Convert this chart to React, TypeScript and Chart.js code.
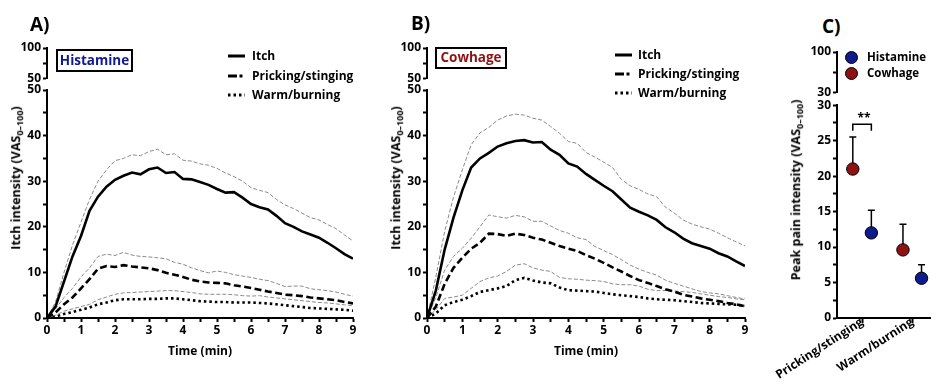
import React, { useEffect, useRef } from 'react';
import { Chart, registerables } from 'chart.js';

Chart.register(...registerables);

const FONT = "'Open Sans', 'DejaVu Sans', sans-serif";
Chart.defaults.font.family = FONT;
Chart.defaults.color = '#000';

// ---------- Data: time courses (minutes) ----------
const timeMin = [0, 0.25, 0.5, 0.75, 1, 1.25, 1.5, 1.75, 2, 2.25, 2.5, 2.75, 3, 3.25, 3.5, 3.75, 4, 4.25, 4.5, 4.75, 5, 5.25, 5.5, 5.75, 6, 6.25, 6.5, 6.75, 7, 7.25, 7.5, 7.75, 8, 8.25, 8.5, 8.75, 9];

// Panel A: Histamine
const histItch = [0, 2.5, 8, 13.5, 18, 23.5, 26.6, 28.8, 30.3, 31.2, 31.9, 31.5, 32.6, 33.0, 31.8, 32.0, 30.5, 30.4, 29.8, 29.2, 28.3, 27.5, 27.6, 26.4, 25.0, 24.3, 23.8, 22.4, 20.8, 20.0, 19.0, 18.3, 17.6, 16.5, 15.3, 14.0, 13.0];
const histItchSem = [0, 3.5, 10, 16, 21, 26, 30, 32.5, 34.5, 35, 35.8, 35.6, 36.5, 37.0, 35.8, 36, 34.6, 34.4, 33.8, 33.5, 32.8, 31.8, 31.0, 30.0, 28.6, 28.0, 27.5, 26.0, 24.8, 24.0, 23.0, 22.0, 21.5, 20.5, 19.6, 18.2, 16.9];
const histPrick = [0, 1.2, 3.0, 4.5, 6.5, 8.5, 10.8, 11.4, 11.2, 11.6, 11.3, 11.1, 10.9, 10.5, 9.9, 9.5, 9.0, 8.4, 8.0, 7.8, 7.7, 7.6, 7.2, 6.9, 6.6, 6.2, 5.8, 5.5, 5.1, 5.0, 4.8, 4.5, 4.3, 4.1, 3.9, 3.5, 3.2];
const histPrickSem = [0, 2.0, 4.5, 6.5, 9.0, 11.0, 13.5, 14.0, 13.7, 14.4, 13.8, 13.5, 13.4, 13.2, 13.0, 12.2, 11.8, 11.0, 10.4, 9.9, 10.3, 10.0, 9.5, 9.2, 8.9, 8.5, 8.2, 7.6, 6.9, 7.0, 7.0, 6.4, 6.2, 6.0, 5.7, 5.2, 4.8];
const histWarm = [0, 0.3, 0.9, 1.3, 1.8, 2.3, 3.0, 3.4, 3.9, 4.1, 4.1, 4.1, 4.2, 4.2, 4.3, 4.3, 4.1, 3.9, 3.7, 3.6, 3.5, 3.5, 3.4, 3.4, 3.4, 3.3, 3.2, 3.0, 2.8, 2.6, 2.4, 2.2, 2.1, 2.0, 1.9, 1.8, 1.6];
const histWarmSem = [0, 0.6, 1.5, 2.0, 2.5, 3.0, 4.0, 4.6, 5.2, 5.5, 5.6, 5.7, 5.8, 5.9, 6.0, 6.0, 5.8, 5.6, 5.3, 5.2, 5.2, 5.2, 5.1, 4.9, 4.8, 4.9, 4.6, 4.4, 4.2, 4.0, 3.8, 3.6, 3.4, 3.3, 3.1, 2.9, 2.7];

// Panel B: Cowhage
const cowItch = [0, 6, 15, 22, 28, 33, 35, 36.2, 37.6, 38.3, 38.8, 39.0, 38.5, 38.6, 36.9, 35.8, 33.9, 33.2, 31.6, 30.3, 29.0, 27.8, 26.0, 24.2, 23.3, 22.5, 21.5, 19.9, 18.8, 17.4, 16.4, 15.8, 15.2, 14.2, 13.5, 12.4, 11.4];
const cowItchSem = [0, 9, 19, 26.5, 32.5, 38, 40.6, 41.8, 43.4, 44.3, 44.7, 44.5, 43.8, 43.4, 42.0, 40.5, 38.7, 38.3, 36.3, 35.3, 34.2, 33.0, 30.4, 29.0, 28.2, 27.2, 26.6, 24.3, 23.0, 21.5, 20.6, 20.0, 19.5, 18.6, 17.6, 16.7, 15.8];
const cowPrick = [0, 2.5, 7.5, 11, 13.2, 15.2, 16.5, 18.5, 18.4, 18.0, 18.5, 18.2, 17.6, 17.2, 16.5, 15.8, 15.2, 14.7, 13.8, 13.0, 12.1, 11.1, 10.2, 9.2, 8.3, 7.7, 7.0, 6.3, 5.8, 5.1, 4.7, 4.3, 4.0, 3.7, 3.3, 3.0, 2.6];
const cowPrickSem = [0, 4.5, 10.5, 13.5, 15.3, 17.5, 20.0, 22.6, 22.2, 21.9, 22.5, 22.2, 21.2, 21.2, 20.2, 19.2, 18.6, 17.6, 17.2, 15.7, 14.8, 13.9, 12.8, 11.6, 10.7, 10.0, 9.4, 8.3, 7.6, 7.0, 6.4, 5.8, 5.5, 5.3, 4.9, 4.5, 4.2];
const cowWarm = [0, 1.0, 2.8, 3.5, 4.0, 4.8, 5.7, 6.1, 6.5, 7.0, 8.3, 8.8, 8.2, 7.8, 7.6, 6.7, 6.1, 6.0, 5.9, 5.8, 5.5, 5.2, 5.0, 4.8, 4.6, 4.3, 4.1, 4.0, 3.9, 3.7, 3.5, 3.3, 3.2, 3.1, 3.0, 2.9, 2.7];
const cowWarmSem = [0, 1.8, 4.3, 4.6, 5.0, 6.5, 8.0, 8.8, 9.2, 10.2, 11.6, 11.9, 11.0, 10.5, 10.2, 8.9, 8.6, 8.5, 8.3, 8.2, 8.0, 7.5, 7.3, 7.3, 7.0, 6.3, 6.0, 6.0, 5.9, 5.8, 5.6, 5.3, 5.0, 4.7, 4.5, 4.2, 4.0];

// Panel C: peak pain
const painCategories = ['Pricking/stinging', 'Warm/burning'];
const cowhagePeak = [21.0, 9.6];
const cowhageUpper = [25.5, 13.2];
const histaminePeak = [12.0, 5.6];
const histamineUpper = [15.2, 7.5];
const sigLow = 26.4;
const sigHigh = 27.3;

const legendLabels = ['Itch', 'Pricking/stinging', 'Warm/burning'];

// ---------- Styles ----------
const HIST_BLUE = '#0e1a8e';
const COW_RED = '#8e1212';
const SEM_GREY = '#8a8a8a';
const GROUP_SHIFT = 0.185;

const tickFont = { family: FONT, size: 12, weight: 'bold' as const };
const borderOpts = { display: true, color: '#000', width: 2 };
const gridOpts = (len: number) => ({
  display: true,
  drawOnChartArea: false,
  drawTicks: true,
  tickLength: len,
  tickWidth: 2,
  tickColor: '#000',
});

const STYLES = {
  itch: { color: '#000', width: 2.6, dash: [] as number[], order: 0 },
  prick: { color: '#000', width: 2.6, dash: [7, 3.5], order: 0 },
  warm: { color: '#000', width: 2.6, dash: [2.5, 3], order: 0 },
  sem: { color: SEM_GREY, width: 1, dash: [4, 2], order: 1 },
};

function lineDataset(label: string, values: number[], style: any) {
  return {
    label,
    data: values.map((v, i) => ({ x: timeMin[i], y: v })),
    borderColor: style.color,
    borderWidth: style.width,
    borderDash: style.dash,
    borderCapStyle: 'butt',
    pointRadius: 0,
    pointHoverRadius: 0,
    tension: 0,
    fill: false,
    order: style.order,
  };
}

function timeCourseConfig(series: number[][], padRight: number) {
  const [itch, itchSem, prick, prickSem, warm, warmSem] = series;
  return {
    type: 'line',
    data: {
      datasets: [
        lineDataset('Itch', itch, STYLES.itch),
        lineDataset('Pricking/stinging', prick, STYLES.prick),
        lineDataset('Warm/burning', warm, STYLES.warm),
        lineDataset('Itch SEM', itchSem, STYLES.sem),
        lineDataset('Pricking SEM', prickSem, STYLES.sem),
        lineDataset('Warm SEM', warmSem, STYLES.sem),
      ],
    },
    options: {
      animation: false,
      responsive: true,
      maintainAspectRatio: false,
      events: [],
      layout: { padding: { top: 10, right: padRight, bottom: 25, left: 0 } },
      plugins: { legend: { display: false }, tooltip: { enabled: false } },
      scales: {
        x: {
          type: 'linear',
          min: 0,
          max: 9,
          border: borderOpts,
          grid: gridOpts(4),
          ticks: {
            stepSize: 0.5,
            autoSkip: false,
            maxRotation: 0,
            padding: 1,
            font: tickFont,
            color: '#000',
            callback: (v: number) => (Number.isInteger(v) ? String(v) : ''),
          },
          title: {
            display: true,
            text: 'Time (min)',
            font: { family: FONT, size: 12, weight: 'bold' },
            color: '#000',
            padding: { top: 0, bottom: 4 },
          },
          afterFit: (s: any) => {
            s.height = 45;
          },
        },
        y: {
          type: 'linear',
          min: 0,
          max: 50,
          border: borderOpts,
          grid: gridOpts(4),
          ticks: {
            stepSize: 5,
            autoSkip: false,
            padding: 2,
            font: tickFont,
            color: '#000',
            callback: (v: number) => (v % 10 === 0 ? String(v) : ''),
          },
          afterFit: (s: any) => {
            s.width = 47;
          },
        },
      },
    },
  };
}

function stubConfig(min: number, max: number, tickValues: number[], labelled: number[], yWidth: number, padTop: number, padBottom: number) {
  return {
    type: 'line',
    data: { datasets: [] },
    options: {
      animation: false,
      responsive: true,
      maintainAspectRatio: false,
      events: [],
      layout: { padding: { top: padTop, bottom: padBottom, left: 0, right: 0 } },
      plugins: { legend: { display: false }, tooltip: { enabled: false } },
      scales: {
        x: { type: 'linear', display: false, min: 0, max: 1 },
        y: {
          type: 'linear',
          min,
          max,
          border: borderOpts,
          grid: gridOpts(4),
          ticks: {
            autoSkip: false,
            padding: 2,
            font: tickFont,
            color: '#000',
            callback: (v: number) => (labelled.includes(v) ? String(v) : ''),
          },
          afterBuildTicks: (s: any) => {
            s.ticks = tickValues.map((value) => ({ value }));
          },
          afterFit: (s: any) => {
            s.width = yWidth;
          },
        },
      },
    },
  };
}

function peakConfig() {
  const cowX = painCategories.map((_, i) => i + 1 - GROUP_SHIFT);
  const histX = painCategories.map((_, i) => i + 1 + GROUP_SHIFT);
  const errorSets: any[] = [];
  const addErr = (xs: number[], means: number[], uppers: number[]) => {
    means.forEach((m, i) => {
      errorSets.push({
        label: 'err',
        data: [
          { x: xs[i], y: m },
          { x: xs[i], y: uppers[i] },
        ],
        borderColor: '#000',
        borderWidth: 1.5,
        pointRadius: [0, 3.5],
        pointStyle: 'line',
        pointBorderColor: '#000',
        pointBorderWidth: 1.5,
        pointBackgroundColor: '#000',
        tension: 0,
        fill: false,
        order: 2,
      });
    });
  };
  addErr(cowX, cowhagePeak, cowhageUpper);
  addErr(histX, histaminePeak, histamineUpper);
  return {
    type: 'line',
    data: {
      datasets: [
        {
          label: 'Histamine',
          data: histaminePeak.map((v, i) => ({ x: histX[i], y: v })),
          showLine: false,
          pointRadius: 6.2,
          pointBackgroundColor: HIST_BLUE,
          pointBorderColor: '#000',
          pointBorderWidth: 1,
          order: 0,
        },
        {
          label: 'Cowhage',
          data: cowhagePeak.map((v, i) => ({ x: cowX[i], y: v })),
          showLine: false,
          pointRadius: 6.2,
          pointBackgroundColor: COW_RED,
          pointBorderColor: '#000',
          pointBorderWidth: 1,
          order: 0,
        },
        ...errorSets,
        {
          label: 'significance',
          data: [
            { x: cowX[0], y: sigLow },
            { x: cowX[0], y: sigHigh },
            { x: histX[0], y: sigHigh },
            { x: histX[0], y: sigLow },
          ],
          borderColor: '#000',
          borderWidth: 1.5,
          pointRadius: 0,
          tension: 0,
          fill: false,
          order: 2,
        },
      ],
    },
    options: {
      animation: false,
      responsive: true,
      maintainAspectRatio: false,
      events: [],
      layout: { padding: { top: 8, right: 0, bottom: 0, left: 0 } },
      plugins: { legend: { display: false }, tooltip: { enabled: false } },
      scales: {
        x: {
          type: 'linear',
          min: 0.5,
          max: 2.37,
          border: borderOpts,
          grid: gridOpts(5),
          ticks: {
            autoSkip: false,
            minRotation: 33,
            maxRotation: 33,
            padding: -8,
            font: tickFont,
            color: '#000',
            callback: (v: number) => painCategories[v - 1] ?? '',
          },
          afterBuildTicks: (s: any) => {
            s.ticks = painCategories.map((_, i) => ({ value: i + 1 }));
          },
          afterFit: (s: any) => {
            s.height = 70;
            s.paddingLeft = 0;
            s.paddingRight = 0;
          },
        },
        y: {
          type: 'linear',
          min: 0,
          max: 30,
          border: borderOpts,
          grid: gridOpts(4),
          ticks: {
            stepSize: 2.5,
            autoSkip: false,
            padding: 2,
            font: tickFont,
            color: '#000',
            callback: (v: number) => (v % 5 === 0 ? String(v) : ''),
          },
          afterFit: (s: any) => {
            s.width = 65;
          },
        },
      },
    },
  };
}

// ---------- Components ----------
function ChartBox({ left, top, width, height, config }: { left: number; top: number; width: number; height: number; config: () => any }) {
  const ref = useRef<HTMLCanvasElement>(null);
  useEffect(() => {
    const chart = new Chart(ref.current as HTMLCanvasElement, config());
    return () => chart.destroy();
  }, []);
  return (
    <div style={{ position: 'absolute', left, top, width, height }}>
      <canvas ref={ref} />
    </div>
  );
}

function Label({ x, y, size, children, color = '#000', center = false }: any) {
  return (
    <div
      style={{
        position: 'absolute',
        left: x,
        top: y - size * 0.53,
        fontSize: size,
        lineHeight: 1,
        fontWeight: 'bold',
        color,
        whiteSpace: 'nowrap',
        transform: center ? 'translateX(-50%)' : undefined,
      }}
    >
      {children}
    </div>
  );
}

function YTitle({ x, y, text }: { x: number; y: number; text: string }) {
  return (
    <div
      style={{
        position: 'absolute',
        left: x,
        top: y,
        transform: 'translate(-50%, -50%) rotate(-90deg)',
        whiteSpace: 'nowrap',
        fontWeight: 'bold',
        fontSize: 12.5,
        lineHeight: 1,
      }}
    >
      {text} (VAS<sub style={{ fontSize: '0.72em', verticalAlign: '-0.3em', lineHeight: 1 }}>0–100</sub>)
    </div>
  );
}

function Sample({ dash }: { dash?: string }) {
  return (
    <svg width={17} height={4} style={{ position: 'absolute', left: 0, top: -2 }}>
      <line x1={0} y1={2} x2={17} y2={2} stroke="#000" strokeWidth={3} strokeDasharray={dash} />
    </svg>
  );
}

function LineLegend({ x, textX, rows }: { x: number; textX: number; rows: number[] }) {
  const dashes = [undefined, '9 2.5 3 10', '2.5 3'];
  return (
    <>
      {legendLabels.map((lab, i) => (
        <React.Fragment key={lab}>
          <div style={{ position: 'absolute', left: x, top: rows[i] }}>
            <Sample dash={dashes[i]} />
          </div>
          <Label x={textX} y={rows[i]} size={12}>
            {lab}
          </Label>
        </React.Fragment>
      ))}
    </>
  );
}

function StimBox({ left, top, width, height, text, color }: any) {
  return (
    <div
      style={{
        position: 'absolute',
        left,
        top,
        width,
        height,
        boxSizing: 'border-box',
        border: '2px solid #000',
        display: 'flex',
        alignItems: 'center',
        justifyContent: 'center',
        color,
        fontWeight: 'bold',
        fontSize: 13.5,
        lineHeight: 1,
      }}
    >
      {text}
    </div>
  );
}

function Dot({ x, y, color }: any) {
  return (
    <div
      style={{
        position: 'absolute',
        left: x - 6.5,
        top: y - 6.5,
        width: 13,
        height: 13,
        boxSizing: 'border-box',
        borderRadius: '50%',
        border: '1px solid #000',
        background: color,
      }}
    />
  );
}

export default function App() {
  return (
    <div
      style={{
        position: 'fixed',
        left: 0,
        top: 0,
        width: 938,
        height: 388,
        overflow: 'hidden',
        background: '#fff',
        fontFamily: FONT,
        color: '#000',
      }}
    >
      {/* Panel A */}
      <ChartBox left={0} top={36} width={60} height={52} config={() => stubConfig(50, 100, [50, 75, 100], [50, 100], 47, 12, 9)} />
      <ChartBox
        left={0}
        top={80}
        width={380}
        height={308}
        config={() => timeCourseConfig([histItch, histItchSem, histPrick, histPrickSem, histWarm, histWarmSem], 27)}
      />
      <Label x={30} y={25} size={19}>A)</Label>
      <StimBox left={56} top={49} width={77} height={23} text="Histamine" color={HIST_BLUE} />
      <LineLegend x={228} textX={252} rows={[56, 76, 95]} />
      <YTitle x={17} y={178} text="Itch intensity" />

      {/* Panel B */}
      <ChartBox left={380} top={36} width={60} height={52} config={() => stubConfig(50, 100, [50, 75, 100], [50, 100], 47, 12, 9)} />
      <ChartBox
        left={380}
        top={80}
        width={380}
        height={308}
        config={() => timeCourseConfig([cowItch, cowItchSem, cowPrick, cowPrickSem, cowWarm, cowWarmSem], 15)}
      />
      <Label x={411} y={24} size={19}>B)</Label>
      <StimBox left={435} top={47} width={72} height={22} text="Cowhage" color={COW_RED} />
      <LineLegend x={615} textX={638} rows={[55, 74, 93]} />
      <YTitle x={397} y={178} text="Itch intensity" />

      {/* Panel C */}
      <ChartBox left={772} top={40} width={80} height={62} config={() => stubConfig(30, 100, [30, 65, 100], [30, 100], 65, 12, 9)} />
      <ChartBox left={772} top={96} width={166} height={292} config={peakConfig} />
      <Label x={822} y={27} size={19}>C)</Label>
      <Dot x={851} y={57} color={HIST_BLUE} />
      <Dot x={851} y={73} color={COW_RED} />
      <Label x={867} y={57} size={11.5}>Histamine</Label>
      <Label x={867} y={73} size={11.5}>Cowhage</Label>
      <Label x={864} y={118} size={12} center>**</Label>
      <YTitle x={797} y={190} text="Peak pain intensity" />
    </div>
  );
}
